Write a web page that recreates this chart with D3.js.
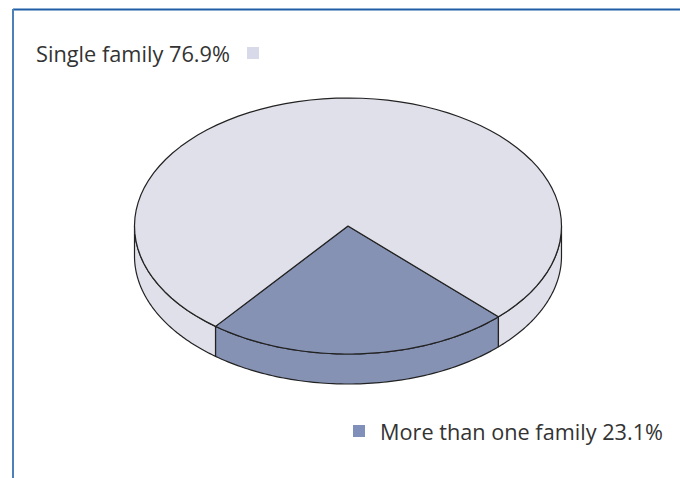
<!DOCTYPE html>
<html>
<head>
<meta charset="utf-8">
<script src="https://cdn.jsdelivr.net/npm/d3@7"></script>
<style>
body { margin: 0; background: #fff; }
text { font-family: "Open Sans", sans-serif; fill: #333; }
</style>
</head>
<body>
<div id="chart"></div>
<script>
var labels = ["More than one family", "Single family"];
var values = [23.1, 76.9];
var colors = ["#8592b4", "#e0e0ea"];
var legendColors = ["#8190bb", "#d9dae9"];

var svgWidth = 680, svgHeight = 478;
var svg = d3.select('#chart').append('svg').attr('width', svgWidth).attr('height', svgHeight);

// frame
svg.append('line').attr('x1', 13).attr('x2', 680).attr('y1', 9.5).attr('y2', 9.5)
  .attr('stroke', '#1f5ea6').attr('stroke-width', 2);
svg.append('line').attr('x1', 13).attr('x2', 13).attr('y1', 9).attr('y2', 478)
  .attr('stroke', '#4e80b8').attr('stroke-width', 2);

var cx = 348, cy = 226, rx = 213.5, ry = 128, depth = 30;
var t0 = 45.2 * Math.PI / 180;

var pie = d3.pie().sort(null).startAngle(t0 + Math.PI / 2).endAngle(t0 + Math.PI / 2 + 2 * Math.PI);
var arcs = pie(values);

function px(t) { return cx + rx * Math.cos(t); }
function py(t, dy) { return cy + ry * Math.sin(t) + (dy || 0); }

function arcPts(a, b, dy) {
  var pts = [], n = 80;
  for (var i = 0; i <= n; i++) {
    var t = a + (b - a) * i / n;
    pts.push([px(t), py(t, dy)]);
  }
  return pts;
}

// side walls: visible where sin(t) > 0 (front half)
function sideSegments(a, b) {
  var segs = [];
  for (var k = -1; k <= 2; k++) {
    var lo = Math.max(a, k * 2 * Math.PI), hi = Math.min(b, k * 2 * Math.PI + Math.PI);
    if (hi > lo) segs.push([lo, hi]);
  }
  return segs;
}

var line = d3.line();
var g = svg.append('g');

arcs.forEach(function(d, i) {
  var a = d.startAngle - Math.PI / 2, b = d.endAngle - Math.PI / 2;
  sideSegments(a, b).forEach(function(s) {
    var top = arcPts(s[0], s[1], 0);
    var bot = arcPts(s[0], s[1], depth).reverse();
    g.append('path')
      .attr('d', line(top.concat(bot)) + 'Z')
      .attr('fill', colors[i])
      .attr('stroke', '#222')
      .attr('stroke-width', 1.2)
      .attr('stroke-linejoin', 'round');
  });
});

arcs.forEach(function(d, i) {
  var a = d.startAngle - Math.PI / 2, b = d.endAngle - Math.PI / 2;
  var pts = [[cx, cy]].concat(arcPts(a, b, 0));
  g.append('path')
    .attr('d', line(pts) + 'Z')
    .attr('fill', colors[i])
    .attr('stroke', '#222')
    .attr('stroke-width', 1.2)
    .attr('stroke-linejoin', 'round');
});

// legend labels
svg.append('text').attr('x', 36).attr('y', 62).attr('font-size', 21)
  .attr('textLength', 194).attr('lengthAdjust', 'spacingAndGlyphs')
  .text(labels[1] + ' ' + values[1].toFixed(1) + '%');
svg.append('rect').attr('x', 247).attr('y', 47).attr('width', 12).attr('height', 12)
  .attr('fill', legendColors[1]);

svg.append('rect').attr('x', 353).attr('y', 425).attr('width', 12).attr('height', 12)
  .attr('fill', legendColors[0]);
svg.append('text').attr('x', 380).attr('y', 440).attr('font-size', 21)
  .attr('textLength', 283).attr('lengthAdjust', 'spacingAndGlyphs')
  .text(labels[0] + ' ' + values[0].toFixed(1) + '%');
</script>
</body>
</html>
